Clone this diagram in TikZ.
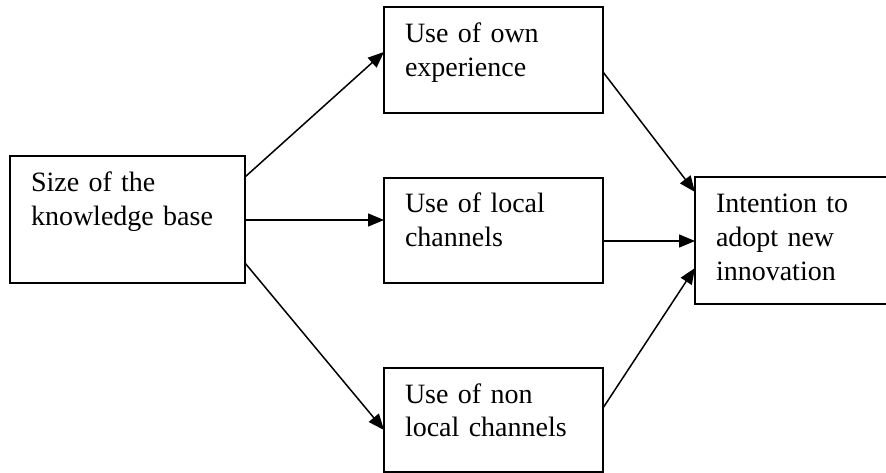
\documentclass[tikz,border=0pt]{standalone}
\usepackage{fontspec}
\setmainfont{Liberation Serif}
\usetikzlibrary{arrows.meta}
\tikzset{
  box/.style={draw, line width=1.6pt, anchor=north west, outer sep=0pt,
    inner xsep=21pt, inner ysep=0pt, align=left,
    font=\fontsize{28}{33.5}\selectfont, text height=36pt},
  conn/.style={line width=1.5pt, -{Triangle[length=16pt,width=13pt]}}
}
\begin{document}
\begin{tikzpicture}[x=1pt,y=-1pt]
\useasboundingbox (0,0) rectangle (886,473);
\clip (0,0) rectangle (886,473);
\node[box, text width=193pt, text depth=91pt] (A) at (10,156) {Size of the\\knowledge base};
\node[box, text width=177pt, text depth=70pt] (B) at (384,7) {Use of own\\experience};
\node[box, text width=177pt, text depth=70pt, text height=35pt] (C) at (384,178) {Use of local\\channels};
\node[box, text width=177pt, text depth=69pt, text height=35pt] (D) at (384,368) {Use of non\\local channels};
\node[box, text width=170pt, text depth=91pt] (E) at (695,177) {Intention to\\adopt new\\innovation};
\draw[conn] ([yshift=-21pt]A.north east) -- ([yshift=-45pt]B.north west);
\draw[conn] ([yshift=-64pt]A.north east) -- ([yshift=-42pt]C.north west);
\draw[conn] ([yshift=-107pt]A.north east) -- ([yshift=-62pt]D.north west);
\draw[conn] ([yshift=-65pt]B.north east) -- ([yshift=-15pt]E.north west);
\draw[conn] ([yshift=-63pt]C.north east) -- ([yshift=-64pt]E.north west);
\draw[conn] ([yshift=-40pt]D.north east) -- ([yshift=-91pt]E.north west);
\end{tikzpicture}
\end{document}
